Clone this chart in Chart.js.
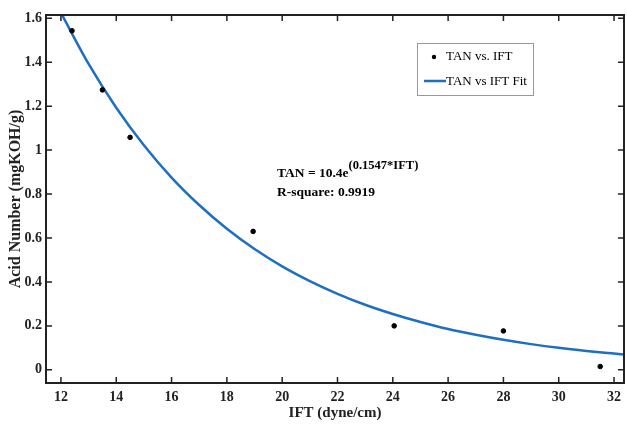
<!DOCTYPE html>
<html>
<head>
<meta charset="utf-8">
<script src="https://cdn.jsdelivr.net/npm/chart.js@4"></script>
<style>
    html, body { margin: 0; padding: 0; background: #fff; overflow: hidden; }
    canvas { display: block; }
</style>
</head>
<body>
<canvas id="tan-chart" width="629" height="433"></canvas>
<script>

// measured TAN vs IFT
const ift = [12.4, 13.5, 14.5, 18.95, 24.05, 28.0, 31.5];
const tan = [1.543, 1.274, 1.058, 0.630, 0.200, 0.177, 0.015];

// fitted curve, read at each IFT value
const fitIft = [12, 13, 14, 15, 16, 17, 18, 19, 20, 21, 22, 23, 24, 25, 26, 27, 28, 29, 30, 31, 32, 32.5];
const fitTan = [1.625, 1.392, 1.193, 1.022, 0.875, 0.750, 0.642, 0.550, 0.471, 0.404, 0.346, 0.296,
    0.254, 0.218, 0.186, 0.160, 0.137, 0.117, 0.100, 0.086, 0.074, 0.068];

const xTicks = [12, 14, 16, 18, 20, 22, 24, 26, 28, 30, 32];
const yTicks = [0, 0.2, 0.4, 0.6, 0.8, 1, 1.2, 1.4, 1.6];

const serif = "'Liberation Serif', serif";

// box around the plot with inward ticks on all four sides
const frame = {
    id: 'frame',
    afterDraw(chart) {
        const ctx = chart.ctx;
        const a = chart.chartArea;
        const xs = chart.scales.x, ys = chart.scales.y;
        ctx.save();
        ctx.strokeStyle = '#222';
        ctx.lineWidth = 2;
        ctx.strokeRect(a.left, a.top, a.right - a.left, a.bottom - a.top);
        ctx.lineWidth = 1.5;
        ctx.beginPath();
        xTicks.forEach(v => {
            const px = xs.getPixelForValue(v);
            ctx.moveTo(px, a.bottom); ctx.lineTo(px, a.bottom - 6);
            ctx.moveTo(px, a.top); ctx.lineTo(px, a.top + 6);
        });
        yTicks.forEach(v => {
            const py = ys.getPixelForValue(v);
            ctx.moveTo(a.left, py); ctx.lineTo(a.left + 6, py);
            ctx.moveTo(a.right, py); ctx.lineTo(a.right - 6, py);
        });
        ctx.stroke();
        ctx.restore();
    }
};

// legend box and fit equation inside the plot
const notes = {
    id: 'notes',
    afterDraw(chart) {
        const ctx = chart.ctx;
        const ds = chart.data.datasets;
        ctx.save();
        // legend
        ctx.fillStyle = '#fff';
        ctx.fillRect(417, 43, 116, 52);
        ctx.strokeStyle = '#999';
        ctx.lineWidth = 1;
        ctx.strokeRect(417.5, 43.5, 116, 52);
        ctx.fillStyle = '#000';
        ctx.beginPath();
        ctx.arc(434, 57, 2.2, 0, Math.PI * 2);
        ctx.fill();
        ctx.strokeStyle = ds[1].borderColor;
        ctx.lineWidth = 2.5;
        ctx.beginPath();
        ctx.moveTo(424, 81); ctx.lineTo(446, 81);
        ctx.stroke();
        ctx.font = '13px ' + serif;
        ctx.textBaseline = 'middle';
        ctx.fillText(ds[0].label, 446, 57);
        ctx.fillText(ds[1].label, 446, 82);

        // equation
        ctx.textBaseline = 'alphabetic';
        ctx.font = 'bold 13.5px ' + serif;
        const base = 'TAN = 10.4e';
        ctx.fillText(base, 277, 177);
        const w = ctx.measureText(base).width;
        ctx.font = 'bold 12.5px ' + serif;
        ctx.fillText('(0.1547*IFT)', 277 + w, 169);
        ctx.font = 'bold 13.5px ' + serif;
        ctx.fillText('R-square: 0.9919', 277, 196);
        ctx.restore();
    }
};

new Chart(document.getElementById('tan-chart'), {
    type: 'scatter',
    data: {
        datasets: [{
            label: 'TAN vs. IFT',
            data: ift.map((x, i) => ({ x: x, y: tan[i] })),
            backgroundColor: '#000',
            borderColor: '#000',
            pointRadius: 2.3,
            order: 1
        }, {
            label: 'TAN vs IFT Fit',
            type: 'line',
            data: fitIft.map((x, i) => ({ x: x, y: fitTan[i] })),
            borderColor: '#1f6fc1',
            borderWidth: 2.5,
            pointRadius: 0,
            cubicInterpolationMode: 'monotone',
            fill: false,
            order: 2
        }]
    },
    options: {
        responsive: false,
        animation: false,
        layout: { padding: { top: 15, right: 1, left: 0, bottom: 0 } },
        plugins: {
            legend: { display: false },
            tooltip: { enabled: false }
        },
        scales: {
            x: {
                type: 'linear',
                min: 11.46,
                max: 32.36,
                afterBuildTicks: s => { s.ticks = xTicks.map(v => ({ value: v })); },
                afterFit: s => { s.height = 50; s.paddingLeft = 0; s.paddingRight = 0; },
                grid: { display: false, drawTicks: false, tickLength: 0 },
                border: { display: false },
                ticks: {
                    color: '#222',
                    padding: 6,
                    maxRotation: 0,
                    font: { family: serif, size: 14, weight: 'bold' }
                },
                title: {
                    display: true,
                    text: 'IFT (dyne/cm)',
                    color: '#222',
                    padding: { top: 0, bottom: 11 },
                    font: { family: serif, size: 15, weight: 'bold' }
                }
            },
            y: {
                min: -0.06,
                max: 1.615,
                afterBuildTicks: s => { s.ticks = yTicks.map(v => ({ value: v })); },
                afterFit: s => { s.width = 46; s.paddingTop = 0; s.paddingBottom = 0; },
                grid: { display: false, drawTicks: false, tickLength: 0 },
                border: { display: false },
                ticks: {
                    color: '#222',
                    padding: 4,
                    callback: v => String(v),
                    font: { family: serif, size: 14, weight: 'bold' }
                },
                title: {
                    display: true,
                    text: 'Acid Number (mgKOH/g)',
                    color: '#222',
                    padding: { top: 6.5, bottom: 0 },
                    font: { family: serif, size: 16, weight: 'bold' }
                }
            }
        }
    },
    plugins: [frame, notes]
});
</script>
</body>
</html>
